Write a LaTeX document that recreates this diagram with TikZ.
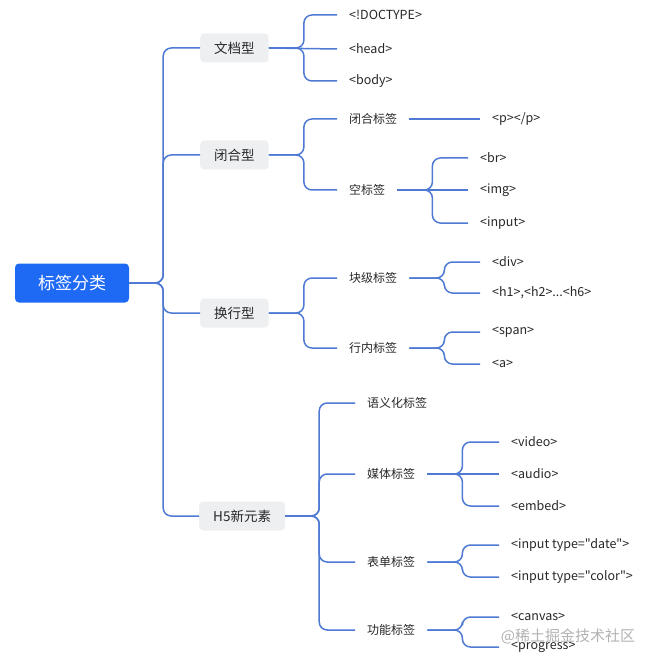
\documentclass[tikz,border=0pt]{standalone}
\usepackage{fontspec}
\setmainfont{Noto Sans CJK SC}[Ligatures=TeXOff]
\usetikzlibrary{positioning}
\definecolor{rootblue}{RGB}{31,106,245}
\definecolor{linkblue}{RGB}{78,122,212}
\definecolor{boxgray}{RGB}{238,239,241}
\definecolor{textdark}{RGB}{40,40,40}

\begin{document}
\begin{tikzpicture}[x=1pt,y=-1pt]
        \tikzset{rootbox/.style={fill=rootblue, text=white, rounded corners=4pt, minimum width=114pt, minimum height=39pt, font=\fontsize{17}{20}\selectfont}}
        \tikzset{typebox/.style={fill=boxgray, text=textdark, rounded corners=4pt, minimum width=67pt, minimum height=29pt, inner xsep=14pt, anchor=west, font=\fontsize{13.5}{16}\selectfont}}
        \tikzset{sub/.style={anchor=west, inner xsep=12pt, text=textdark, font=\fontsize{12}{14}\selectfont}}
        \tikzset{leaf/.style={anchor=west, inner xsep=12pt, text=textdark, font=\fontsize{12.5}{14}\selectfont}}
        \tikzset{branch/.style={draw=linkblue, line width=1.5pt, rounded corners=8pt}}

        \useasboundingbox (0,0) rectangle (647,660);

        \node[rootbox] (root) at (72,283) {标签分类};

        \node[typebox] (wendang) at (200,48) {文档型};
        \node[typebox] (bihe) at (200,155) {闭合型};
        \node[typebox] (huanhang) at (200,313) {换行型};
        \node[typebox] (hfive) at (199,516) {H5新元素};

        \node[sub] (bihebq) at (337,119) {闭合标签};
        \node[sub] (kongbq) at (337,190) {空标签};
        \node[sub] (kuaiji) at (337,278) {块级标签};
        \node[sub] (hangnei) at (337,348) {行内标签};
        \node[sub] (yuyi) at (355,403) {语义化标签};
        \node[sub] (meiti) at (355,474) {媒体标签};
        \node[sub] (biaodan) at (355,562) {表单标签};
        \node[sub] (gongneng) at (355,630) {功能标签};

        \node[leaf] (doctype) at (337,15) {<!DOCTYPE>};
        \node[leaf] (head) at (337,49) {<head>};
        \node[leaf] (body) at (337,81) {<body>};
        \node[leaf] (ptag) at (480,119) {<p></p>};
        \node[leaf] (br) at (468,158) {<br>};
        \node[leaf] (img) at (468,190) {<img>};
        \node[leaf] (input) at (468,223) {<input>};
        \node[leaf] (div) at (480,262) {<div>};
        \node[leaf] (hn) at (480,293) {<h1>,<h2>...<h6>};
        \node[leaf] (span) at (480,332) {<span>};
        \node[leaf] (atag) at (480,364) {<a>};
        \node[leaf] (video) at (499,442) {<video>};
        \node[leaf] (audio) at (499,474) {<audio>};
        \node[leaf] (embed) at (499,506) {<embed>};
        \node[leaf] (date) at (499,545) {<input type="date">};
        \node[leaf] (color) at (499,577) {<input type="color">};
        \node[leaf] (canvas) at (499,617) {<canvas>};
        \node[leaf] (progress) at (499,647) {<progress>};

        \foreach \c in {wendang,bihe,huanhang,hfive}
            \draw[branch] (root.east) -- ++(34,0) |- (\c.west);

        % middle children run straight through the trunk
        \foreach \c in {doctype,body}
            \draw[branch] (wendang.east) -- ++(35,0) |- (\c.west);
        \draw[branch] (wendang.east) -- (head.west);
        \foreach \c in {bihebq,kongbq}
            \draw[branch] (bihe.east) -- ++(35,0) |- (\c.west);
        \foreach \c in {kuaiji,hangnei}
            \draw[branch] (huanhang.east) -- ++(35,0) |- (\c.west);
        \foreach \c in {yuyi,meiti,biaodan,gongneng}
            \draw[branch] (hfive.east) -- ++(34,0) |- (\c.west);

        \draw[branch] (bihebq.east) -- (ptag.west);
        \foreach \c in {br,input}
            \draw[branch] (kongbq.east) -- ++(35,0) |- (\c.west);
        \draw[branch] (kongbq.east) -- (img.west);
        \foreach \c in {div,hn}
            \draw[branch] (kuaiji.east) -- ++(35,0) |- (\c.west);
        \foreach \c in {span,atag}
            \draw[branch] (hangnei.east) -- ++(35,0) |- (\c.west);
        \foreach \c in {video,embed}
            \draw[branch] (meiti.east) -- ++(35,0) |- (\c.west);
        \draw[branch] (meiti.east) -- (audio.west);
        \foreach \c in {date,color}
            \draw[branch] (biaodan.east) -- ++(35,0) |- (\c.west);
        \foreach \c in {canvas,progress}
            \draw[branch] (gongneng.east) -- ++(35,0) |- (\c.west);

        \node[text=gray!60, font=\fontsize{15}{17}\selectfont] (watermark) at (568,636) {@稀土掘金技术社区};
\end{tikzpicture}
\end{document}
